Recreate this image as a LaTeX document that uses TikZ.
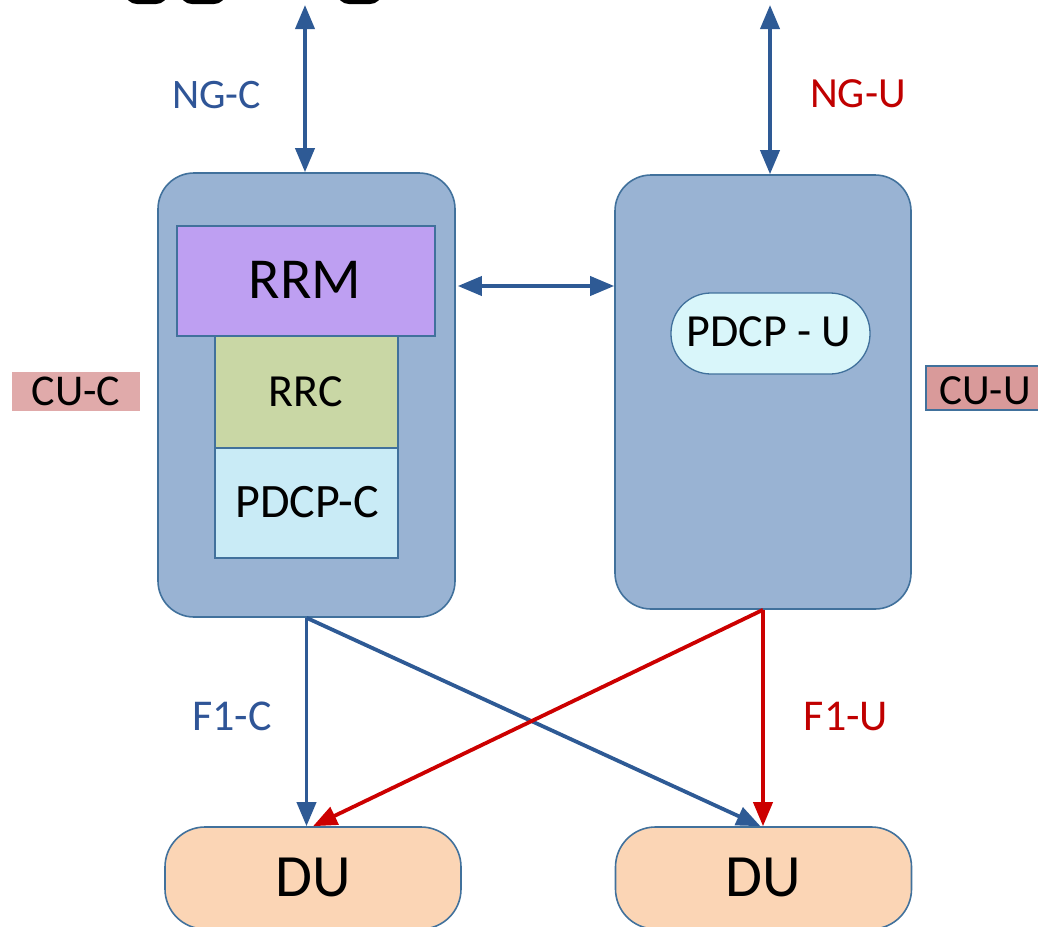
\documentclass[tikz,border=0pt]{standalone}
\usepackage{fontspec}
\setmainfont{Carlito}
\usetikzlibrary{arrows.meta}
\definecolor{cufill}{HTML}{99B3D3}
\definecolor{edgeblue}{HTML}{41719C}
\definecolor{rrmfill}{HTML}{BE9FF2}
\definecolor{rrcfill}{HTML}{C9D7A5}
\definecolor{pdcpcfill}{HTML}{C9EBF6}
\definecolor{pdcpufill}{HTML}{D9F6FA}
\definecolor{dufill}{HTML}{FBD5B5}
\definecolor{cucfill}{HTML}{E0AAAA}
\definecolor{cuufill}{HTML}{D99A9A}
\definecolor{arrblue}{HTML}{2E5A95}
\definecolor{arrred}{HTML}{CC0000}
\definecolor{txtblue}{HTML}{2F5597}
\definecolor{txtred}{HTML}{C00000}
\newcommand{\fs}[1]{\fontsize{#1}{#1}\selectfont}
\tikzset{
  cubox/.style={draw=edgeblue, line width=1.6pt, fill=cufill, rounded corners=36pt, inner sep=0pt},
  layerbox/.style={draw=edgeblue, line width=1.3pt, inner sep=0pt},
  dubox/.style={draw=edgeblue, line width=1.6pt, fill=dufill, rounded corners=40pt, inner sep=0pt, minimum width=296pt, minimum height=102pt},
  tip/.tip={Triangle[length=24pt,width=19pt]},
  bluearr/.style={draw=arrblue, line width=3.8pt, -tip},
  bluedbl/.style={draw=arrblue, line width=3.8pt, tip-tip},
  redarr/.style={draw=arrred, line width=3.8pt, -tip},
  lbl/.style={anchor=base, inner sep=0pt},
}
\begin{document}
\begin{tikzpicture}[x=1pt, y=-1pt]
\useasboundingbox (0,0) rectangle (1038,926);
% cropped black shapes at top edge
\draw[black, line width=4pt, rounded corners=10pt] (127,-40) rectangle (166,2);
\draw[black, line width=4pt, rounded corners=10pt] (182,-40) rectangle (224,2);
\draw[black, line width=4pt, rounded corners=10pt] (339,-40) rectangle (380,2);
% CU boxes
\node[cubox, minimum width=297pt, minimum height=444pt] (cuc) at (306.5,395) {};
\node[cubox, minimum width=296pt, minimum height=434pt] (cuu) at (763,392) {};
% layers
\node[layerbox, fill=rrmfill, minimum width=258pt, minimum height=110pt] (rrm) at (306,281) {};
\node[layerbox, fill=rrcfill, minimum width=183pt, minimum height=112pt] (rrc) at (306.5,392) {};
\node[layerbox, fill=pdcpcfill, minimum width=183pt, minimum height=110pt] (pdcpc) at (306.5,503) {};
\node[lbl] (rrmt) at (305,298) {\fs{58}RRM};
\node[lbl] (rrct) at (306,406) {\fs{46}RRC};
\node[lbl] (pdcpct) at (307,517) {\fs{48}PDCP-C};
\node[draw=edgeblue, line width=1.3pt, fill=pdcpufill, rounded corners=40pt, minimum width=199pt, minimum height=81pt, inner sep=0pt] (pdcpu) at (770.5,333.5) {};
\node[lbl] (pdcput) at (769,346) {\fs{46}PDCP - U};
% DU boxes
\node[dubox] (dul) at (313,878) {};
\node[dubox] (dur) at (763.5,878) {};
\node[lbl] (dult) at (313,896) {\fs{60}DU};
\node[lbl] (durt) at (763.5,896) {\fs{60}DU};
% CU labels
\node[fill=cucfill, minimum width=128pt, minimum height=39pt, inner sep=0pt] (cuclbl) at (76,391.5) {};
\node[lbl] (cuct) at (76,405) {\fs{44}CU-C};
\draw[draw=edgeblue, line width=2.2pt, fill=cuufill] (926,366) rectangle (1050,410);
\coordinate (cuuanchor) at (985,404);
\node[lbl] (cuut) at (cuuanchor) {\fs{43}CU-U};
% top coordinates
\coordinate (ngctop) at (305,5);
\coordinate (ngutop) at (770,5);
\coordinate (hline) at (0,286);
% arrows
\draw[bluedbl] (ngctop) -- (ngctop |- cuc.north);
\draw[bluedbl] (ngutop) -- (ngutop |- cuu.north);
\draw[bluedbl] ([xshift=2pt]cuc.east |- hline) -- (cuu.west |- hline);
\draw[bluearr] (cuc.south) -- (cuc.south |- dul.north);
\draw[bluearr] (cuc.south) -- ([xshift=-3pt]dur.north);
\draw[redarr] (cuu.south) -- (cuu.south |- dur.north);
\draw[redarr] (cuu.south) -- (dul.north);
% interface labels
\node[lbl, text=txtblue] (ngc) at (216.5,108) {\fs{42}NG-C};
\node[lbl, text=txtred] (ngu) at (858,107) {\fs{43}NG-U};
\node[lbl, text=txtblue] (f1c) at (232,730) {\fs{44}F1-C};
\node[lbl, text=txtred] (f1u) at (846,730) {\fs{44}F1-U};
\end{tikzpicture}
\end{document}
